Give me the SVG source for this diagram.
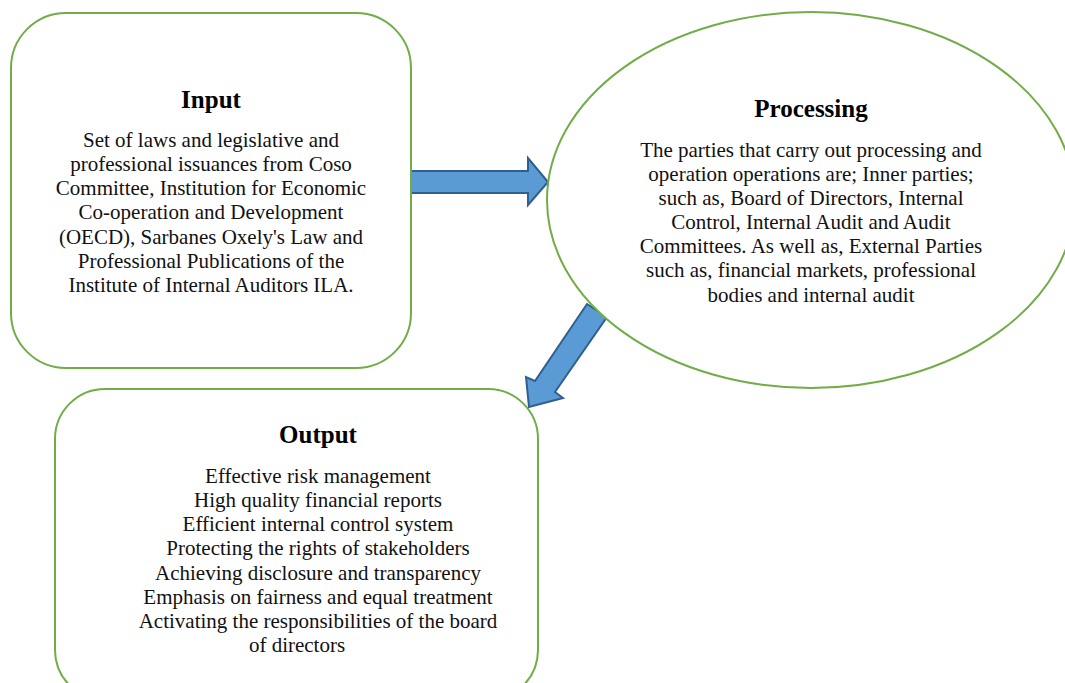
<svg xmlns="http://www.w3.org/2000/svg" width="1065" height="683" viewBox="0 0 1065 683">
<style>
.node{fill:#fff;stroke:#70AD47;stroke-width:2}
.arrow{fill:#5B9BD5;stroke:#2F5F8E;stroke-width:2;stroke-linejoin:miter}
.t{font-family:"Liberation Serif","Times New Roman",serif;font-size:25px;font-weight:bold;fill:#000;text-anchor:middle}
.b{font-family:"Liberation Serif","Times New Roman",serif;font-size:21px;fill:#111;text-anchor:middle}
</style>
<rect width="1065" height="683" fill="#fff"/>
<g id="connectors">
<polygon class="arrow" points="410,171 528,171 528,158 548,182 528,205 528,193 410,193"/>
<polygon class="arrow" points="587,304 607,317 555,392 563,398 529,407 526,377 535,381"/>
</g>
<g id="input">
<rect class="node" x="11" y="13" width="400" height="355" rx="55" ry="55"/>
<text class="t" x="211" y="108">Input</text>
<text class="b" x="211" y="147">Set of laws and legislative and</text>
<text class="b" x="211" y="171">professional issuances from Coso</text>
<text class="b" x="211" y="195">Committee, Institution for Economic</text>
<text class="b" x="211" y="219">Co-operation and Development</text>
<text class="b" x="211" y="244">(OECD), Sarbanes Oxely's Law and</text>
<text class="b" x="211" y="268">Professional Publications of the</text>
<text class="b" x="211" y="292">Institute of Internal Auditors ILA.</text>
</g>
<g id="processing">
<ellipse class="node" cx="811" cy="200" rx="264" ry="188"/>
<text class="t" x="811" y="117">Processing</text>
<text class="b" x="811" y="157">The parties that carry out processing and</text>
<text class="b" x="811" y="181">operation operations are; Inner parties;</text>
<text class="b" x="811" y="205">such as, Board of Directors, Internal</text>
<text class="b" x="811" y="229">Control, Internal Audit and Audit</text>
<text class="b" x="811" y="253">Committees. As well as, External Parties</text>
<text class="b" x="811" y="277">such as, financial markets, professional</text>
<text class="b" x="811" y="302">bodies and internal audit</text>
</g>
<g id="output">
<rect class="node" x="55" y="389" width="483" height="311" rx="50" ry="50"/>
<text class="t" x="318" y="443">Output</text>
<text class="b" x="318" y="483">Effective risk management</text>
<text class="b" x="318" y="507">High quality financial reports</text>
<text class="b" x="318" y="531">Efficient internal control system</text>
<text class="b" x="318" y="555">Protecting the rights of stakeholders</text>
<text class="b" x="318" y="580">Achieving disclosure and transparency</text>
<text class="b" x="318" y="604">Emphasis on fairness and equal treatment</text>
<text class="b" x="318" y="628">Activating the responsibilities of the board</text>
<text class="b" x="297" y="652">of directors</text>
</g>
</svg>
